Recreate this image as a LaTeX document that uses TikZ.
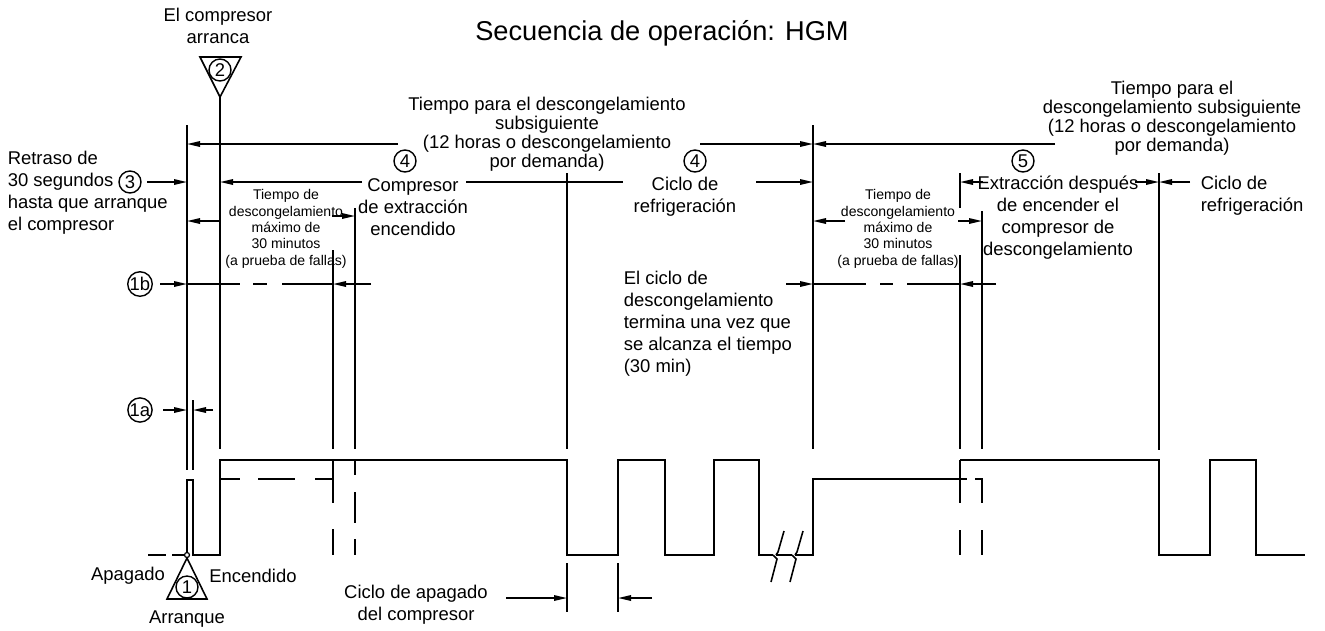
\documentclass[tikz,border=0pt]{standalone}
\usepackage{fontspec}
\setmainfont{Liberation Sans}
\usetikzlibrary{arrows.meta, positioning, calc}

\begin{document}
\begin{tikzpicture}[
    x=0.02cm, y=-0.02cm,
    line width=0.9pt,
    every node/.style={inner sep=0pt, font=\fontsize{10.5}{12.5}\selectfont},
    lbl/.style={align=center},
    lblleft/.style={align=left, anchor=west},
    lbltight/.style={align=center, font=\fontsize{10.5}{10.8}\selectfont},
    lblsmall/.style={align=center, font=\fontsize{8}{9.3}\selectfont},
    num/.style={circle, draw, line width=0.8pt, minimum size=0.44cm, font=\fontsize{10.5}{12}\selectfont},
    dim/.style={-{Triangle[length=2.6mm,width=1.1mm]}}
]
\useasboundingbox (0,0) rectangle (1325,630);

% Title
\node (title) at (662,33) {\fontsize{15.5}{18}\selectfont Secuencia de operación: HGM};

% Start markers
\node[lbl] (arranca) at (218,26) {El compresor\\arranca};
\draw (200,57) -- (241,57) -- (220,97) -- cycle;
\node[num] (n2) at (220,70) {2};
\draw (187,558) -- (207,599) -- (167,599) -- cycle;
\node[num] (n1) at (187,587) {1};
\node (apagado) at (128,576) {Apagado};
\node (encendido) at (253,576) {Encendido};
\node (arranque) at (187,619) {Arranque};

% Guide lines
\draw (187,125) -- (187,470);
\draw (193,400) -- (193,470);
\draw (220,97) -- (220,449);
\draw (333,250) -- (333,449);
\draw (355,208) -- (355,449);
\draw (567,173) -- (567,449);
\draw (813,125) -- (813,449);
\draw (960,173) -- (960,208);
\draw (960,255) -- (960,449);
\draw (982,211) -- (982,449);
\draw (1159,173) -- (1159,450);

% Left labels
\node[lblleft] (retraso) at (7,193) {Retraso de\\30 segundos\\hasta que arranque\\el compresor};
\node[num] (n3) at (130,182) {3};
\node[num] (n1b) at (140,284) {1b};
\node[num] (n1a) at (140,410) {1a};

% Top labels
\node[lbltight] (subsig) at (547,134) {Tiempo para el descongelamiento\\subsiguiente\\(12 horas o descongelamiento\\por demanda)};
\node[lbltight] (subsigb) at (1172,118) {Tiempo para el\\descongelamiento subsiguiente\\(12 horas o descongelamiento\\por demanda)};
\node[num] (n4a) at (405,161) {4};
\node[num] (n4b) at (695,161) {4};
\node[num] (n5) at (1023,161) {5};
\node[lbl] (extraccion) at (413,207) {Compresor\\de extracción\\encendido};
\node[lbl] (refrig) at (685,197) {Ciclo de\\refrigeración};
\node[lblleft] (refrigb) at (1200,196) {Ciclo de\\refrigeración};
\node[lbl] (despues) at (1058,218) {Extracción después\\de encender el\\compresor de\\descongelamiento};
\node[lblsmall] (maximo) at (286,229) {Tiempo de\\descongelamiento\\máximo de\\30 minutos\\(a prueba de fallas)};
\node[lblsmall] (maximob) at (898,229) {Tiempo de\\descongelamiento\\máximo de\\30 minutos\\(a prueba de fallas)};
\node[lblleft] (termina) at (623,324) {El ciclo de\\descongelamiento\\termina una vez que\\se alcanza el tiempo\\(30 min)};
\node[lbl] (apagadocomp) at (416,605) {Ciclo de apagado\\del compresor};

% Dimension arrows
\draw[dim] (398,144) -- (187,144);
\draw[dim] (700,144) -- (813,144);
\draw[dim] (1055,144) -- (813,144);
\draw[dim] (147,182) -- (187,182);
\draw[dim] (362,182) -- (220,182);
\draw (466,182) -- (623,182);
\draw[dim] (756,182) -- (813,182);
\draw[dim] (983,182) -- (960,182);
\draw[dim] (1135,182) -- (1159,182);
\draw[dim] (1190,182) -- (1159,182);
\draw[dim] (220,221) -- (187,221);
\draw[dim] (332,216) -- (355,216);
\draw[dim] (845,221) -- (813,221);
\draw[dim] (958,221) -- (982,221);

% 1b row
\draw[dim] (160,284) -- (187,284);
\draw (187,284) -- (240,284);
\draw (253,284) -- (267,284);
\draw (282,284) -- (333,284);
\draw[dim] (371,284) -- (333,284);
\draw[dim] (786,284) -- (813,284);
\draw (813,284) -- (866,284);
\draw (880,284) -- (893,284);
\draw (907,284) -- (960,284);
\draw[dim] (996,284) -- (960,284);

% 1a row
\draw[dim] (163,410) -- (187,410);
\draw[dim] (213,410) -- (193,410);

% Off-cycle of compressor
\draw (567,563) -- (567,612);
\draw (618,563) -- (618,612);
\draw[dim] (506,598) -- (567,598);
\draw[dim] (652,598) -- (618,598);

% Wave
\draw (148,555) -- (166,555);
\draw (172,555) -- (184,555);
\draw (187,555) -- (187,480) -- (193,480) -- (193,555) -- (220,555) -- (220,460)
  -- (567,460) -- (567,555) -- (618,555) -- (618,460) -- (665,460) -- (665,555)
  -- (714,555) -- (714,460) -- (759,460) -- (759,555) -- (773,555);
\draw[fill=white, line width=0.7pt] (187,555) circle (0.05cm);
\draw (220,479) -- (240,479);
\draw (258,479) -- (295,479);
\draw (315,479) -- (333,479);
\draw (333,460) -- (333,503);
\draw (333,529) -- (333,555);
\draw (355,460) -- (355,475);
\draw (355,492) -- (355,523);
\draw (355,539) -- (355,555);

% Break
\draw (771,582) -- (777,559) -- (773,555);
\draw (776,555) -- (778,552) -- (784,531);
\draw (776,555) -- (792,555);
\draw (790,582) -- (796,559) -- (792,555);
\draw (795,555) -- (797,552) -- (803,531);
\draw (795,555) -- (813,555) -- (813,479) -- (967,479);
\draw (975,479) -- (982,479) -- (982,503);
\draw (982,530) -- (982,555);
\draw (960,460) -- (960,503);
\draw (960,530) -- (960,555);
\draw (960,460) -- (1159,460) -- (1159,555) -- (1210,555) -- (1210,460)
  -- (1256,460) -- (1256,555) -- (1305,555);

\end{tikzpicture}
\end{document}
